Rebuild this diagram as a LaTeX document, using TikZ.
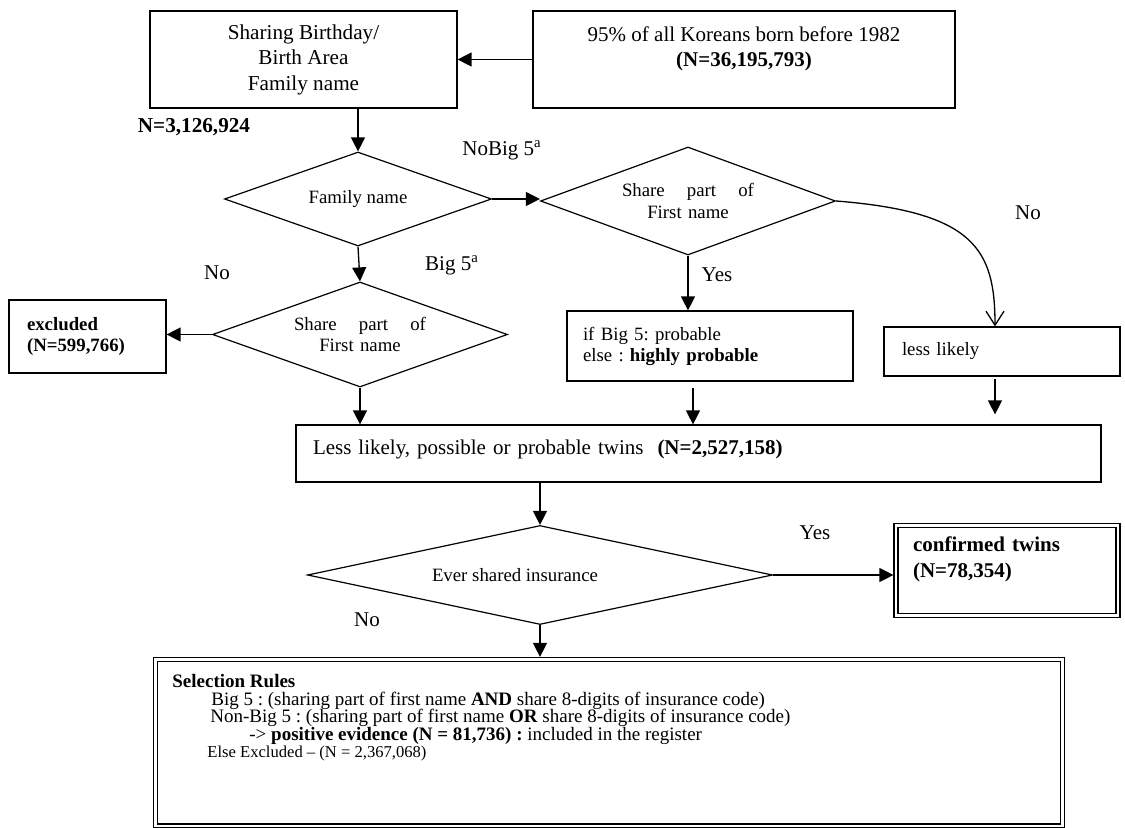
\documentclass[tikz,border=0pt]{standalone}
\usepackage{fontspec}
\setmainfont{Liberation Serif}
\usetikzlibrary{arrows.meta,shapes.geometric}
\frenchspacing
\tikzset{
  box/.style={draw,line width=0.6pt,inner sep=0pt},
  dbox/.style={draw,double,double distance=1.4pt,line width=0.6pt,inner sep=0pt},
  choice/.style={draw,diamond,line width=0.6pt,inner sep=0pt,align=center,font=\fontsize{9.4}{10.6}\selectfont},
  arr/.style={line width=0.65pt,-{Triangle[length=7pt,width=7pt]}},
  lbl/.style={font=\fontsize{10.5}{12.5}\selectfont}
}
\begin{document}
\begin{tikzpicture}[x=0.5pt,y=-0.5pt,font=\fontsize{10.5}{12.5}\selectfont]
\useasboundingbox (0,0) rectangle (1125,828);
\node[box,minimum width=153.5pt,minimum height=48.5pt,align=center,font=\fontsize{10.6}{12.75}\selectfont] (birth) at (303.5,59.5) {Sharing Birthday/\\Birth Area\\Family name};
\node[box,minimum width=211pt,minimum height=48.5pt,align=center,font=\fontsize{10.5}{12.75}\selectfont] (korea) at (744,59.5) {95\% of all Koreans born before 1982\\\textbf{(N=36,195,793)}\\\mbox{}};
\draw[arr] (korea.west) -- (birth.east);
\node[font=\bfseries\fontsize{10.6}{12}\selectfont] (total) at (194,127) {N=3,126,924};
\node[choice,aspect=2.84,minimum width=133.5pt,minimum height=47pt] (fam) at (358,199) {Family name};
\node[choice,aspect=2.73,minimum width=147.5pt,minimum height=54pt,text width=66pt] (first1) at (688,201) {Share\hfill part\hfill of\\First name};
\node[choice,aspect=2.81,minimum width=147.5pt,minimum height=52.5pt,text width=66pt] (first2) at (360,334.5) {Share\hfill part\hfill of\\First name};
\node[choice,aspect=4.7,minimum width=232.5pt,minimum height=49.5pt] (ins) at (540,575) {Ever shared insurance\hspace*{25pt}};
\node[box,minimum width=78.5pt,minimum height=36.5pt,text width=60.5pt,align=left,font=\bfseries\fontsize{9.4}{10.5}\selectfont] (excl) at (87.5,336.5) {excluded\\(N=599,766)};
\node[box,minimum width=143pt,minimum height=35pt,text width=127pt,align=left,font=\fontsize{9.4}{10.5}\selectfont] (prob) at (710,346) {if Big 5: probable\\else : \textbf{highly probable}};
\node[box,minimum width=118pt,minimum height=24.5pt,text width=100pt,align=left,font=\fontsize{9.4}{10.5}\selectfont] (less) at (1002,351.5) {less likely};
\node[box,minimum width=402.5pt,minimum height=28.5pt,text width=385.5pt,align=left,text depth=6pt] (likely) at (698.5,453.5) {Less likely, possible or probable twins\ \ \textbf{(N=2,527,158)}};
\node[dbox,minimum width=111pt,minimum height=45pt,text width=94pt,align=left,font=\bfseries\fontsize{10.5}{13}\selectfont] (conf) at (1007,570.5) {confirmed twins\\(N=78,354)\\\mbox{}};
\node[dbox,minimum width=453.5pt,minimum height=83.25pt] (rules) at (609,742.75) {};
\node[anchor=north west,inner sep=0pt,align=left,font=\fontsize{9.5}{8.75}\selectfont] (rulestext) at (172,674) {\textbf{Selection Rules}\\
\hspace*{19.5pt}Big 5 : (sharing part of first name \textbf{AND} share 8-digits of insurance code)\\
\hspace*{19pt}Non-Big 5 : (sharing part of first name \textbf{OR} share 8-digits of insurance code)\\
\hspace*{38.5pt}-> \textbf{positive evidence (N = 81,736) :} included in the register\\
\hspace*{17.5pt}{\fontsize{8.3}{8.75}\selectfont Else Excluded \textendash{} (N = 2,367,068)}};
\node[lbl] (nobig) at (502,150) {NoBig 5\textsuperscript{a}};
\node[lbl] (big) at (452,265) {Big 5\textsuperscript{a}};
\node[lbl] (nofirst) at (217,273) {No};
\node[lbl] (yesfirst) at (717,275) {Yes};
\node[lbl] (noless) at (1028,213) {No};
\node[lbl] (yesins) at (815,533) {Yes};
\node[lbl] (noins) at (367,620) {No};
\draw[arr] (birth.south -| fam.north) -- (fam.north);
\draw[arr] (fam.east) -- (fam.east -| first1.west);
\draw[arr] (fam.south) -- (first2.north);
\draw[arr] (first2.west) -- (first2.west -| excl.east);
\draw[arr] (first1.south) -- (first1.south |- prob.north);
\draw[line width=0.65pt,-{Straight Barb[length=7pt,width=9pt]}] (first1.east) .. controls (975,212) and (995,250) .. ([xshift=-3.5pt]less.north);
\draw[arr] (first2.south) -- (first2.south |- likely.north);
\draw[arr,shorten <=3pt] ([xshift=-8.5pt]prob.south) -- ([xshift=-8.5pt]prob.south |- likely.north);
\draw[arr,shorten <=1pt,shorten >=5pt] ([xshift=-3.5pt]less.south) -- ([xshift=-3.5pt]less.south |- likely.north);
\draw[arr] (likely.south -| ins.north) -- (ins.north);
\draw[arr,shorten >=1pt] (ins.east) -- (ins.east -| conf.west);
\draw[arr,shorten >=1pt] (ins.south) -- (ins.south |- rules.north);
\end{tikzpicture}
\end{document}
